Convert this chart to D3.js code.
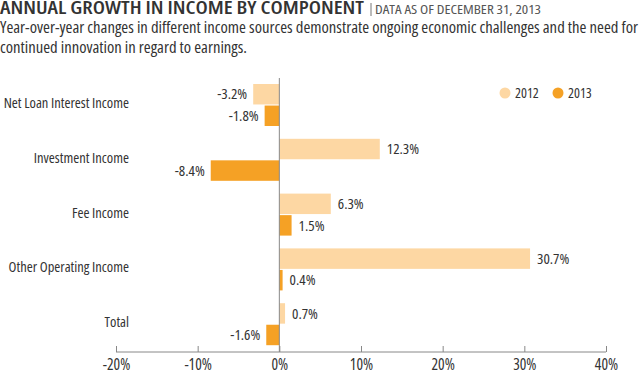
<!DOCTYPE html>
<meta charset="utf-8">
<script src="https://d3js.org/d3.v7.min.js"></script>
<style>
  body { margin: 0; background: #fff; }
  svg text { font-family: "Open Sans", sans-serif; font-stretch: 75%; }
</style>
<div id="chart"></div>
<script>
    // data
    const categories = ["Net Loan Interest Income", "Investment Income", "Fee Income", "Other Operating Income", "Total"];
    const years = ["2012", "2013"];
    const values2012 = [-3.2, 12.3, 6.3, 30.7, 0.7];
    const values2013 = [-1.8, -8.4, 1.5, 0.4, -1.6];
    const xTicks = [-20, -10, 0, 10, 20, 30, 40];

    const colors = {"2012": "#fdd7a3", "2013": "#f5a125"};

    const width = 640, height = 374;

    const svg = d3.select("#chart")
      .append("svg")
        .attr("width", width)
        .attr("height", height);

    // title + subtitle (squeezed to the width of the original condensed face)
    svg.append("text")
        .attr("x", 0)
        .attr("y", 14)
        .attr("font-size", 17)
        .attr("font-weight", 600)
        .attr("fill", "#333")
        .attr("textLength", 364)
        .attr("lengthAdjust", "spacingAndGlyphs")
        .text("ANNUAL GROWTH IN INCOME BY COMPONENT");
    svg.append("line")
        .attr("x1", 371).attr("x2", 371)
        .attr("y1", 3).attr("y2", 16)
        .attr("stroke", "#777");
    svg.append("text")
        .attr("x", 375)
        .attr("y", 13.5)
        .attr("font-size", 12.8)
        .attr("fill", "#555")
        .attr("textLength", 166)
        .attr("lengthAdjust", "spacingAndGlyphs")
        .text("DATA AS OF DECEMBER 31, 2013");

    svg.append("text")
        .attr("x", 0).attr("y", 33)
        .attr("font-size", 16)
        .attr("fill", "#333")
        .attr("textLength", 638)
        .attr("lengthAdjust", "spacingAndGlyphs")
        .text("Year-over-year changes in different income sources demonstrate ongoing economic challenges and the need for");
    svg.append("text")
        .attr("x", 0).attr("y", 53)
        .attr("font-size", 16)
        .attr("fill", "#333")
        .attr("textLength", 247)
        .attr("lengthAdjust", "spacingAndGlyphs")
        .text("continued innovation in regard to earnings.");

    // scales
    const x = d3.scaleLinear()
      .domain([-20, 40])
      .range([116, 606]);

    const y0 = d3.scaleBand()
      .domain(categories)
      .range([78, 352]);

    const y1 = d3.scaleBand()
      .domain(years)
      .range([6, 48])
      .paddingInner(0.05);

    const rows = categories.map((c, i) => ({
      cat: c,
      vals: [{year: "2012", v: values2012[i]}, {year: "2013", v: values2013[i]}]
    }));

    // x axis
    const axis = svg.append("g")
        .attr("transform", "translate(0,352)")
        .call(d3.axisBottom(x).tickValues(xTicks).tickSize(-6).tickPadding(6).tickFormat(d => d + "%"));
    axis.select(".domain").attr("stroke", "#888").attr("d", `M${x(-20)},0H${x(40)}`);
    axis.selectAll(".tick line").attr("stroke", "#888");
    axis.selectAll(".tick text")
        .attr("font-size", 15.5)
        .attr("fill", "#333")
        .attr("dy", "0.75em");

    // bars
    const groups = svg.append("g")
      .selectAll("g")
      .data(rows)
      .join("g")
        .attr("transform", d => `translate(0,${y0(d.cat)})`);

    groups.selectAll("rect")
      .data(d => d.vals)
      .join("rect")
        .attr("x", d => x(Math.min(0, d.v)))
        .attr("y", d => y1(d.year))
        .attr("width", d => Math.abs(x(d.v) - x(0)))
        .attr("height", y1.bandwidth())
        .attr("fill", d => colors[d.year]);

    groups.selectAll("text.val")
      .data(d => d.vals)
      .join("text")
        .attr("class", "val")
        .attr("x", d => d.v < 0 ? x(d.v) - 6 : x(d.v) + 7)
        .attr("y", d => y1(d.year) + y1.bandwidth() / 2)
        .attr("dy", "0.35em")
        .attr("text-anchor", d => d.v < 0 ? "end" : "start")
        .attr("font-size", 15)
        .attr("fill", "#333")
        .text(d => d.v.toFixed(1) + "%");

    // category labels
    groups.append("text")
        .attr("x", 129)
        .attr("y", 25)
        .attr("dy", "0.35em")
        .attr("text-anchor", "end")
        .attr("font-size", 14.5)
        .attr("fill", "#333")
        .text(d => d.cat);

    // zero line
    svg.append("line")
        .attr("x1", x(0)).attr("x2", x(0))
        .attr("y1", 78).attr("y2", 352)
        .attr("stroke", "#888");

    // legend
    const legend = svg.append("g")
      .selectAll("g")
      .data(years)
      .join("g")
        .attr("transform", (d, i) => `translate(${505 + i * 53},93)`);
    legend.append("circle")
        .attr("r", 5.5)
        .attr("fill", d => colors[d]);
    legend.append("text")
        .attr("x", 10)
        .attr("dy", "0.35em")
        .attr("font-size", 14)
        .attr("fill", "#333")
        .text(d => d);
</script>
